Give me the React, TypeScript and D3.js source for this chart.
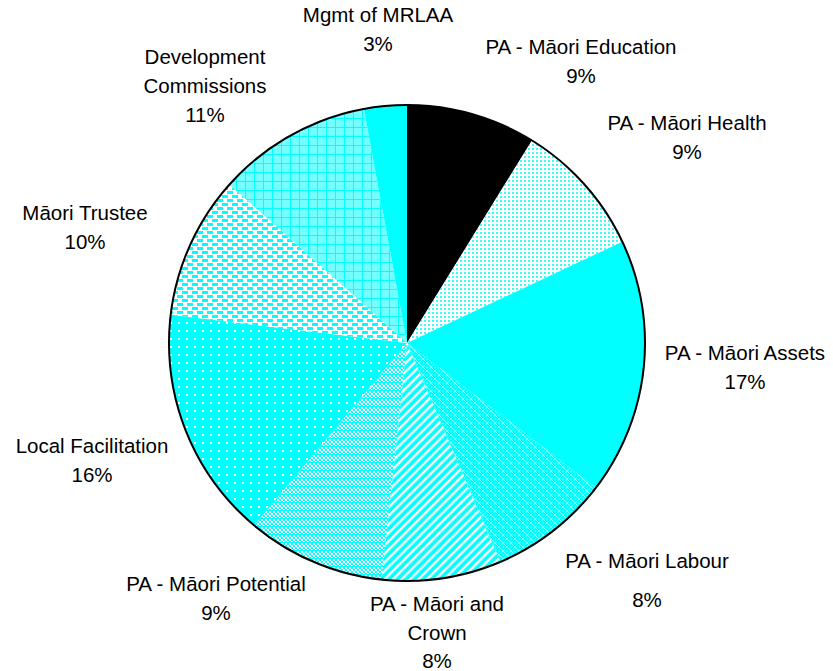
import React from "react";
import * as d3 from "d3";

// slices, clockwise from 12 o'clock
const categories = [
  "PA - Māori Education",
  "PA - Māori Health",
  "PA - Māori Assets",
  "PA - Māori Labour",
  "PA - Māori and Crown",
  "PA - Māori Potential",
  "Local Facilitation",
  "Māori Trustee",
  "Development Commissions",
  "Mgmt of MRLAA",
];
const shares = [8.8, 9.2, 17.4, 8.2, 8.1, 9.4, 15.8, 9.7, 10.5, 2.9];
const pctLabels = ["9%", "9%", "17%", "8%", "8%", "9%", "16%", "10%", "11%", "3%"];
// label lines as they wrap in the original
const labelLines = [
  ["PA - Māori Education"],
  ["PA - Māori Health"],
  ["PA - Māori Assets"],
  ["PA - Māori Labour", ""],
  ["PA - Māori and", "Crown"],
  ["PA - Māori Potential"],
  ["Local Facilitation"],
  ["Māori Trustee"],
  ["Development", "Commissions"],
  ["Mgmt of MRLAA"],
];
const fills = [
  "#000000",
  "url(#pHealth)",
  "#00ffff",
  "url(#pLabour)",
  "url(#pCrown)",
  "url(#pPotential)",
  "url(#pLocal)",
  "url(#pTrustee)",
  "url(#pDev)",
  "#00ffff",
];
// label anchor (center of first line)
const labelPos: [number, number][] = [
  [581, 49],
  [687, 125],
  [745, 355],
  [647, 563],
  [437, 606],
  [216, 586],
  [92, 448],
  [85, 215],
  [205, 59],
  [378, 17],
];

const W = 833;
const H = 671;
const cx = 407;
const cy = 343;
const R = 238;
const CY = "#00ffff";

export default function App() {
  const pie = d3.pie<number>().sort(null).value((d) => d);
  const arcs = pie(shares);
  const arc = d3.arc<d3.PieArcDatum<number>>().innerRadius(0).outerRadius(R);
  const lineH = 29;

  return (
    <svg
      width={W}
      height={H}
      style={{ position: "absolute", left: 0, top: 0, background: "#fff" }}
      fontFamily="'Liberation Sans', Arial, sans-serif"
    >
      <defs>
        <pattern id="pHealth" width="4" height="4" patternUnits="userSpaceOnUse">
          <rect width="4" height="4" fill="#fff" />
          <rect x="1" y="1" width="2" height="2" fill={CY} opacity="0.8" />
        </pattern>
        <pattern id="pLabour" width="8" height="8" patternUnits="userSpaceOnUse">
          <rect width="8" height="8" fill={CY} />
          <path d="M0 0L8 8M8 0L0 8" stroke="#fff" strokeWidth="0.6" opacity="0.8" />
          <rect x="3.5" y="0" width="1" height="1" fill="#fff" />
          <rect x="0" y="3.5" width="1" height="1" fill="#fff" />
        </pattern>
        <pattern
          id="pCrown"
          width="6"
          height="6"
          patternUnits="userSpaceOnUse"
          patternTransform="rotate(45)"
        >
          <rect width="6" height="6" fill={CY} />
          <rect x="0" y="0" width="2.4" height="6" fill="#fff" />
        </pattern>
        <pattern id="pPotential" width="8" height="8" patternUnits="userSpaceOnUse">
          <rect width="8" height="8" fill="#fff" />
          <rect x="0" y="0" width="2" height="2" fill={CY} />
          <rect x="2" y="2" width="2" height="2" fill={CY} />
          <rect x="4" y="0" width="2" height="2" fill={CY} />
          <rect x="6" y="2" width="2" height="2" fill={CY} />
          <rect x="0" y="4" width="2" height="2" fill={CY} />
          <rect x="4" y="4" width="2" height="2" fill={CY} />
          <rect x="2" y="6" width="2" height="2" fill={CY} />
          <rect x="6" y="6" width="2" height="2" fill={CY} />
          <rect x="0" y="7" width="8" height="1" fill={CY} />
        </pattern>
        <pattern id="pLocal" width="8" height="8" patternUnits="userSpaceOnUse">
          <rect width="8" height="8" fill={CY} />
          <rect x="3" y="3" width="2" height="2" fill="#fff" />
        </pattern>
        <pattern id="pTrustee" width="10" height="8" patternUnits="userSpaceOnUse">
          <rect width="10" height="8" fill="#fff" />
          <rect x="0" y="0" width="6" height="3" fill={CY} />
          <rect x="5" y="4" width="6" height="3" fill={CY} />
          <rect x="-5" y="4" width="6" height="3" fill={CY} />
        </pattern>
        <pattern id="pDev" width="9" height="9" patternUnits="userSpaceOnUse">
          <rect width="9" height="9" fill="#fff" />
          <rect width="9" height="9" fill={CY} opacity="0.55" />
          <rect x="0" y="0" width="9" height="1" fill={CY} />
          <rect x="0" y="0" width="1" height="9" fill={CY} />
        </pattern>
      </defs>

      <g transform={`translate(${cx},${cy})`}>
        {arcs.map((a, i) => (
          <path key={categories[i]} d={arc(a) || ""} fill={fills[i]} />
        ))}
        <circle r={R} fill="none" stroke="#000" strokeWidth={2} />
      </g>

      {labelLines.map((lines, i) => {
        const [x, y] = labelPos[i];
        const all = [...lines, pctLabels[i]];
        return (
          <text
            key={categories[i]}
            x={x}
            y={y}
            textAnchor="middle"
            dominantBaseline="middle"
            fontSize={20.5}
            fill="#000"
          >
            {all.map((t, j) => (
              <tspan key={j} x={x} y={y + j * lineH + (i === 3 && j === 2 ? -19 : 0) - (i === 4 && j === 2 ? 1 : 0)}>
                {t}
              </tspan>
            ))}
          </text>
        );
      })}
    </svg>
  );
}
